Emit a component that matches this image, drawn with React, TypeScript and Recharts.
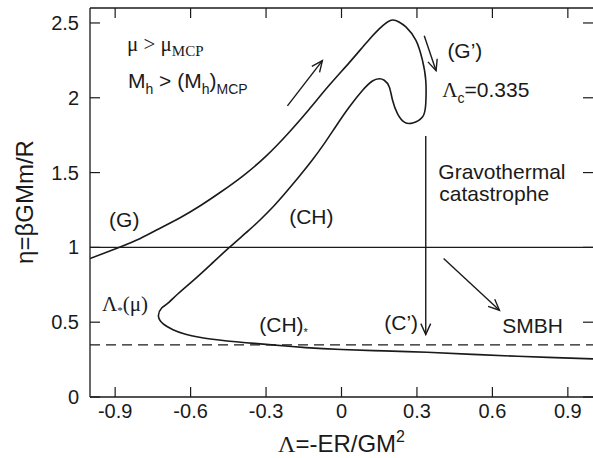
import React from "react";
import {
  ComposedChart,
  Line,
  XAxis,
  YAxis,
  ReferenceLine,
  ReferenceDot,
  Label,
} from "recharts";

// caloric curve in order along the curve:
// (G) branch up -> hook at Lambda_c -> (CH) branch down to Lambda_* -> back to the right
const LAMBDA = [
  -1.0, -0.885, -0.8, -0.725, -0.64, -0.56, -0.48, -0.394, -0.3, -0.208,
  -0.13, -0.049, 0.031, 0.1, 0.15, 0.197, 0.23, 0.256, 0.296, 0.322,
  0.335, 0.335, 0.322, 0.283, 0.25, 0.223, 0.203, 0.19, 0.17, 0.15,
  0.123, 0.084, 0.031, -0.022, -0.07, -0.12, -0.17, -0.22, -0.27, -0.32,
  -0.37, -0.447, -0.52, -0.59, -0.65, -0.695, -0.715, -0.728, -0.71, -0.67,
  -0.62, -0.513, -0.38, -0.3, -0.142, 0.0, 0.17, 0.34, 0.52, 0.7,
  0.85, 1.0,
];
const ETA = [
  0.925, 1.0, 1.06, 1.125, 1.2, 1.28, 1.37, 1.475, 1.61, 1.77,
  1.92, 2.083, 2.235, 2.37, 2.46, 2.518, 2.505, 2.474, 2.384, 2.25,
  2.117, 1.96, 1.871, 1.831, 1.837, 1.893, 1.983, 2.072, 2.117, 2.127,
  2.112, 2.05, 1.938, 1.81, 1.69, 1.575, 1.47, 1.37, 1.275, 1.19,
  1.112, 0.998, 0.885, 0.778, 0.69, 0.62, 0.595, 0.545, 0.49, 0.45,
  0.42, 0.386, 0.363, 0.352, 0.33, 0.317, 0.308, 0.299, 0.285, 0.272,
  0.263, 0.255,
];

const X_TICKS = [-0.9, -0.6, -0.3, 0, 0.3, 0.6, 0.9];
const Y_TICKS = [0, 0.5, 1, 1.5, 2, 2.5];
const X_DOMAIN = [-1, 1];
const Y_DOMAIN = [0, 2.6];

const ETA_ONE = 1;
const ETA_STAR = 0.348;
const LAMBDA_C = 0.335;

// arrows: [lambda0, eta0, lambda1, eta1]
const ARROWS = [
  [-0.215, 1.946, -0.076, 2.248],
  [0.329, 2.415, 0.376, 2.181],
  [LAMBDA_C, 1.745, LAMBDA_C, 0.417],
  [0.406, 0.926, 0.628, 0.58],
];

const curve = LAMBDA.map((x, i) => ({ x, y: ETA[i] }));

const W = 593;
const H = 458;
const PLOT_TOP = 8;
const PLOT_LEFT = 90;
const X_AXIS_H = 61;
const PLOT_RIGHT = W;
const TICK_LEN = 10;
const INK = "#1a1a1a";
const SANS = "'Liberation Sans', Arial, sans-serif";
const SERIF = "'Liberation Serif', 'Times New Roman', serif";

const XTick = ({ x, y, payload }: any) => (
  <g>
    <line x1={x} x2={x} y1={y} y2={y - TICK_LEN} stroke={INK} strokeWidth={1.2} />
    <line x1={x} x2={x} y1={PLOT_TOP} y2={PLOT_TOP + TICK_LEN} stroke={INK} strokeWidth={1.2} />
    <text x={x} y={y + 21} textAnchor="middle" fontFamily={SANS} fontSize={20} fill={INK}>
      {String(payload.value)}
    </text>
  </g>
);

const YTick = ({ x, y, payload }: any) => (
  <g>
    <line x1={x} x2={x + TICK_LEN} y1={y} y2={y} stroke={INK} strokeWidth={1.2} />
    <line x1={PLOT_RIGHT - TICK_LEN} x2={PLOT_RIGHT} y1={y} y2={y} stroke={INK} strokeWidth={1.2} />
    <text x={x - 11} y={y + 7} textAnchor="end" fontFamily={SANS} fontSize={20} fill={INK}>
      {String(payload.value)}
    </text>
  </g>
);

const XTitle = ({ viewBox }: any) => (
  <text
    x={viewBox.x + viewBox.width / 2}
    y={viewBox.y + 55}
    textAnchor="middle"
    fontFamily={SANS}
    fontSize={24}
    fill={INK}
  >
    <tspan fontFamily={SERIF}>Λ</tspan>=-ER/GM
    <tspan fontSize={16} dy={-10}>2</tspan>
  </text>
);

const YTitle = () => (
  <text
    x={0}
    y={0}
    transform={`translate(33, 202) rotate(-90)`}
    textAnchor="middle"
    fontFamily={SANS}
    fontSize={24}
    fill={INK}
  >
    η=βGMm/R
  </text>
);

const Arrow = (props: any) => {
  const { x1, y1, x2, y2 } = props;
  const a = Math.atan2(y2 - y1, x2 - x1);
  const L = 12;
  const s = 0.42;
  const l = [x2 - L * Math.cos(a - s), y2 - L * Math.sin(a - s)];
  const r = [x2 - L * Math.cos(a + s), y2 - L * Math.sin(a + s)];
  return (
    <g>
      <line x1={x1} y1={y1} x2={x2} y2={y2} stroke={INK} strokeWidth={1.4} />
      <polyline
        points={`${l[0]},${l[1]} ${x2},${y2} ${r[0]},${r[1]}`}
        fill="none"
        stroke={INK}
        strokeWidth={1.4}
      />
    </g>
  );
};

const sub = { fontSize: 14, dy: 6 };

const ANNOTATIONS: { x: number; y: number; body: React.ReactNode; font?: string }[] = [
  {
    x: -0.853,
    y: 2.313,
    font: SERIF,
    body: (
      <>
        μ &gt; μ<tspan fontSize={15} dy={5}>MCP</tspan>
      </>
    ),
  },
  {
    x: -0.849,
    y: 2.065,
    body: (
      <>
        M<tspan {...sub}>h</tspan>
        <tspan dy={-6}>{" > (M"}</tspan>
        <tspan {...sub}>h</tspan>
        <tspan dy={-6}>)</tspan>
        <tspan {...sub}>MCP</tspan>
      </>
    ),
  },
  { x: 0.421, y: 2.266, body: "(G’)" },
  {
    x: 0.401,
    y: 2.005,
    body: (
      <>
        <tspan fontFamily={SERIF}>Λ</tspan>
        <tspan {...sub}>c</tspan>
        <tspan dy={-6}>=0.335</tspan>
      </>
    ),
  },
  { x: 0.385, y: 1.456, body: "Gravothermal" },
  { x: 0.389, y: 1.308, body: "catastrophe" },
  { x: -0.208, y: 1.154, body: "(CH)" },
  { x: -0.924, y: 1.134, body: "(G)" },
  {
    x: -0.952,
    y: 0.578,
    font: SERIF,
    body: (
      <>
        Λ<tspan fontSize={11} dy={3}>*</tspan>
        <tspan dy={-3}>(μ)</tspan>
      </>
    ),
  },
  {
    x: -0.327,
    y: 0.437,
    body: (
      <>
        (CH)<tspan fontSize={11} dy={4}>*</tspan>
      </>
    ),
  },
  { x: 0.17, y: 0.451, body: "(C’)" },
  { x: 0.639, y: 0.431, body: "SMBH" },
];

export default function App() {
  return (
    <div style={{ position: "absolute", left: 0, top: 0, background: "#fff" }}>
      <ComposedChart
        width={W}
        height={H}
        data={curve}
        margin={{ top: PLOT_TOP, right: 0, bottom: 0, left: 0 }}
      >
        <XAxis
          type="number"
          dataKey="x"
          domain={X_DOMAIN}
          ticks={X_TICKS}
          interval={0}
          allowDataOverflow
          height={X_AXIS_H}
          tickSize={0}
          tickMargin={0}
          tickLine={false}
          axisLine={{ stroke: INK, strokeWidth: 1.3 }}
          tick={<XTick />}
        >
          <Label content={XTitle} />
        </XAxis>
        <YAxis
          type="number"
          domain={Y_DOMAIN}
          ticks={Y_TICKS}
          interval={0}
          allowDataOverflow
          width={PLOT_LEFT}
          tickSize={0}
          tickMargin={0}
          tickLine={false}
          axisLine={{ stroke: INK, strokeWidth: 1.3 }}
          tick={<YTick />}
        >
          <Label content={YTitle} />
        </YAxis>
        <ReferenceLine y={Y_DOMAIN[1]} stroke={INK} strokeWidth={1.3} />
        <ReferenceLine y={ETA_ONE} stroke={INK} strokeWidth={1.3} />
        <ReferenceLine y={ETA_STAR} stroke={INK} strokeWidth={1.3} strokeDasharray="10 6" />
        {ARROWS.map((a, i) => (
          <ReferenceLine
            key={`arrow-${i}`}
            segment={[
              { x: a[0], y: a[1] },
              { x: a[2], y: a[3] },
            ]}
            shape={Arrow}
          />
        ))}
        <Line
          type="natural"
          dataKey="y"
          stroke={INK}
          strokeWidth={1.6}
          dot={false}
          activeDot={false}
          isAnimationActive={false}
        />
        {ANNOTATIONS.map((t, i) => (
          <ReferenceDot
            key={`note-${i}`}
            x={t.x}
            y={t.y}
            r={0}
            shape={(p: any) => (
              <text x={p.cx} y={p.cy} fontFamily={t.font || SANS} fontSize={21} fill={INK}>
                {t.body}
              </text>
            )}
          />
        ))}
      </ComposedChart>
    </div>
  );
}
